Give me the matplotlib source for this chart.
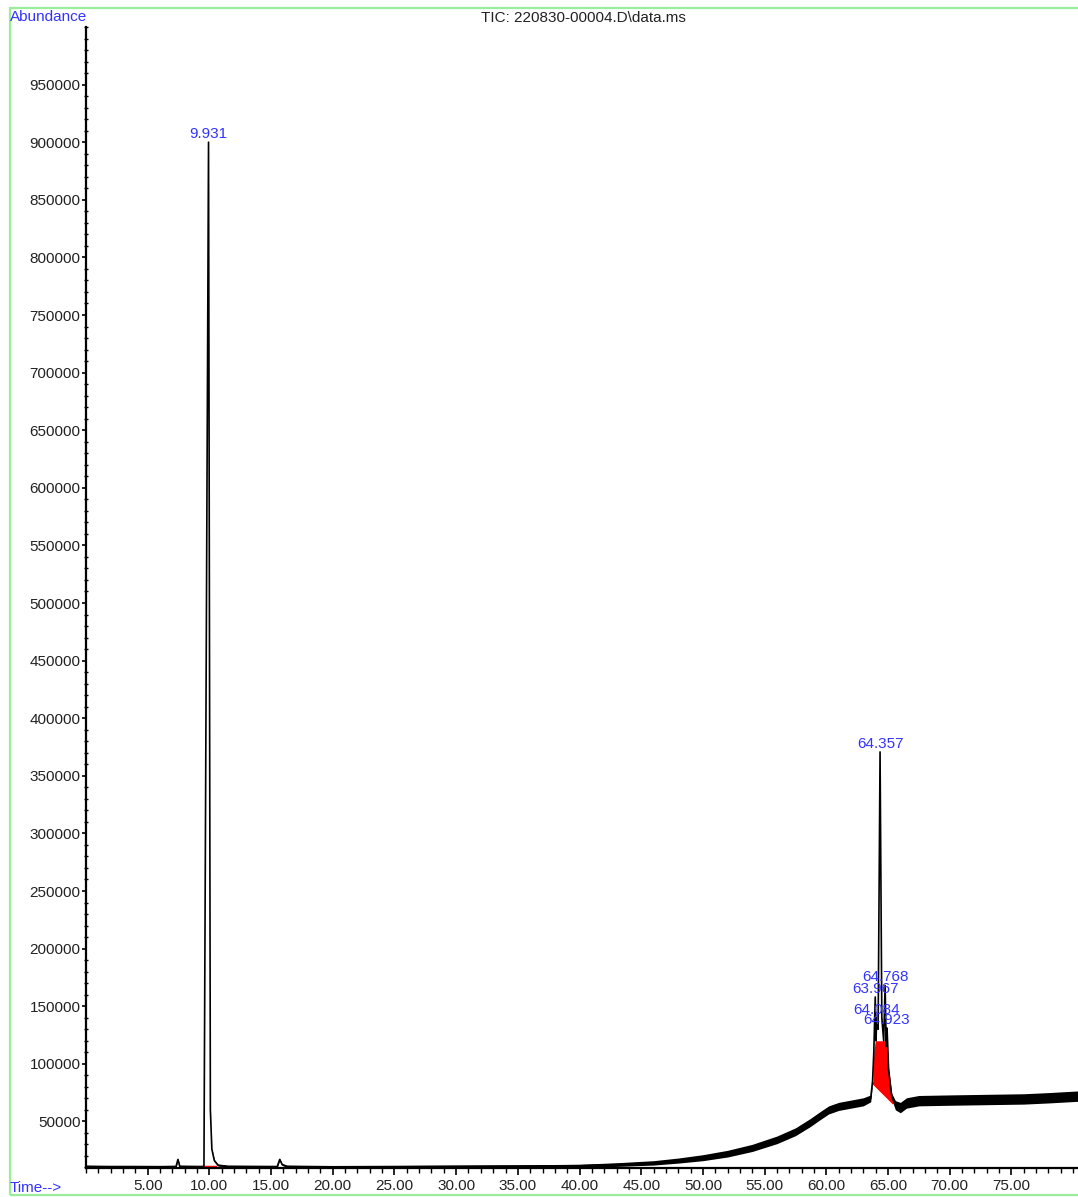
import matplotlib
matplotlib.use("Agg")
import matplotlib.pyplot as plt
from matplotlib.patches import Rectangle
from matplotlib.ticker import FixedLocator, MultipleLocator
import numpy as np

plt.rcParams['font.family'] = ['Liberation Sans', 'DejaVu Sans']

# ---------------- data ----------------
time_min = [0.0, 2.0, 4.0, 6.0, 7.3, 7.45, 7.6, 9.5, 9.56, 9.931, 10.08, 10.2, 10.4, 10.7,
            11.5, 15.5, 15.7, 15.9, 16.3, 20.0, 25.0, 30.0, 35.0, 40.0, 43.0, 46.0, 48.0,
            50.0, 52.0, 54.0, 56.0, 57.5, 58.7, 59.5, 60.2, 61.0, 62.0, 63.0, 63.6,
            63.75, 63.85, 63.967, 64.03, 64.084, 64.2, 64.357, 64.5, 64.65, 64.768, 64.85,
            64.923, 65.05, 65.3, 65.6, 66.0, 66.5, 67.0, 67.5, 70.0, 73.0,
            76.0, 78.0, 80.5]
abundance = [11000, 10800, 10800, 10700, 10900, 17000, 11000, 10800, 11500, 900000, 60000,
             26000, 16000, 12000, 11000, 10800, 17000, 12500, 11000, 10600, 10800, 11000,
             11200, 11500, 12500, 14000, 16000, 18500, 22000, 27000, 34000, 41000, 49000,
             55000, 60000, 63000, 65000, 67000, 70000, 85000, 110000, 158000, 120000,
             140000, 130000, 370700, 140000, 120000, 168000, 115000, 131000, 95000, 72000,
             64000, 62000, 66000, 67000, 68000, 68500, 69000,
             69500, 70500, 72000]
noise_halfwidth = [800, 800, 800, 800, 800, 800, 800, 800, 600, 300, 600, 600, 800, 800,
                   800, 800, 800, 800, 800, 900, 900, 1000, 1100, 1300, 1600, 1900, 2200,
                   2600, 2900, 3100, 3300, 3400, 3500, 3500, 3500, 3500, 3500, 3500, 3000,
                   1500, 800, 400, 800, 400, 800, 300, 800, 800, 400, 800, 400, 1000, 2500,
                   4000, 4500, 4500, 4500, 4500, 4500, 4500,
                   4500, 4500, 4500]

peak_labels = ["9.931", "63.967", "64.084", "64.357", "64.768", "64.923"]
peak_times = [9.931, 63.967, 64.084, 64.357, 64.768, 64.923]
peak_heights = [900000, 158000, 140000, 370700, 168000, 131000]

# integrated area of the late cluster (red) and baseline of the first peak
cluster_start, cluster_end = 63.8, 65.4
cluster_base = [83000, 66000]
cluster_fill_top = 120000
first_base_t = [9.5, 10.45]
first_base_v = [10800, 10800]

x_major = [5, 10, 15, 20, 25, 30, 35, 40, 45, 50, 55, 60, 65, 70, 75]
x_labels = ["5.00", "10.00", "15.00", "20.00", "25.00", "30.00", "35.00", "40.00",
            "45.00", "50.00", "55.00", "60.00", "65.00", "70.00", "75.00"]
y_major = [50000, 100000, 150000, 200000, 250000, 300000, 350000, 400000, 450000,
           500000, 550000, 600000, 650000, 700000, 750000, 800000, 850000, 900000, 950000]
y_labels = [str(v) for v in y_major]

title = "TIC: 220830-00004.D\\data.ms"

# ---------------- figure ----------------
W, H = 1078, 1197
FS = 11
fig = plt.figure(figsize=(W / 100, H / 100), dpi=100)
ax = fig.add_axes([86 / W, 1 - 1168 / H, 1 - 86 / W, (1168 - 27) / H])
ax.set_xlim(0, 80.4)
ax.set_ylim(9550, 1000000)

t = np.array(time_min)
a = np.array(abundance)
n = np.array(noise_halfwidth)

# red integration fill for the cluster
m = (t >= cluster_start) & (t <= cluster_end)
tt = np.concatenate([[cluster_start], t[m], [cluster_end]])
aa = np.interp(tt, t, a)
base = np.interp(tt, [cluster_start, cluster_end], cluster_base)
ax.fill_between(tt, base, np.clip(aa, base, cluster_fill_top), color='#ff0000',
                lw=0, zorder=2)
ax.plot([cluster_start, cluster_end], cluster_base, color='#ff0000', lw=1.5, zorder=2.5)
ax.plot(first_base_t, first_base_v, color='#ff0000', lw=2.5, zorder=2.5)

# noise band + trace
ax.fill_between(t, a - n, a + n, color='black', lw=0, zorder=3)
ax.plot(t, a, color='black', lw=1.2, zorder=4)

# peak labels
for lab, pt, ph in zip(peak_labels, peak_times, peak_heights):
    ax.annotate(lab, xy=(pt, ph), xytext=(0, 8), textcoords='offset pixels',
                ha='center', va='center', color='#3333ff', fontsize=FS, zorder=6)

# axes styling
for sp in ['top', 'right']:
    ax.spines[sp].set_visible(False)
ax.spines['left'].set_linewidth(1.6)
ax.spines['bottom'].set_linewidth(1.6)

ax.xaxis.set_major_locator(FixedLocator(x_major))
ax.set_xticklabels(x_labels)
ax.xaxis.set_minor_locator(MultipleLocator(1))
ax.yaxis.set_major_locator(FixedLocator(y_major))
ax.set_yticklabels(y_labels)
ax.yaxis.set_minor_locator(MultipleLocator(10000))

ax.tick_params(axis='x', which='major', direction='out', length=5, width=1.2,
               pad=3, labelsize=FS, labelcolor='#222222')
ax.tick_params(axis='x', which='minor', direction='out', length=3.5, width=1.0)
ax.tick_params(axis='y', which='major', direction='out', length=3, width=1.2,
               pad=1, labelsize=FS, labelcolor='#222222')
ax.tick_params(axis='y', which='minor', direction='inout', length=3, width=1.0)

# frame and header texts
fig.add_artist(Rectangle((10 / W, 1 - 1195 / H), 1.2, (1195 - 8) / H,
                         transform=fig.transFigure, fill=False,
                         edgecolor='#99ee99', lw=1.6))
fig.text(10 / W, 1 - 17 / H, "Abundance", color='#3333ff', fontsize=FS,
         ha='left', va='center')
fig.text(10 / W, 1 - 1188 / H, "Time-->", color='#3333ff', fontsize=FS,
         ha='left', va='center')
fig.text(583 / W, 1 - 18 / H, title, color='#222222', fontsize=FS,
         ha='center', va='center')

fig.savefig("out.png", dpi=100)
